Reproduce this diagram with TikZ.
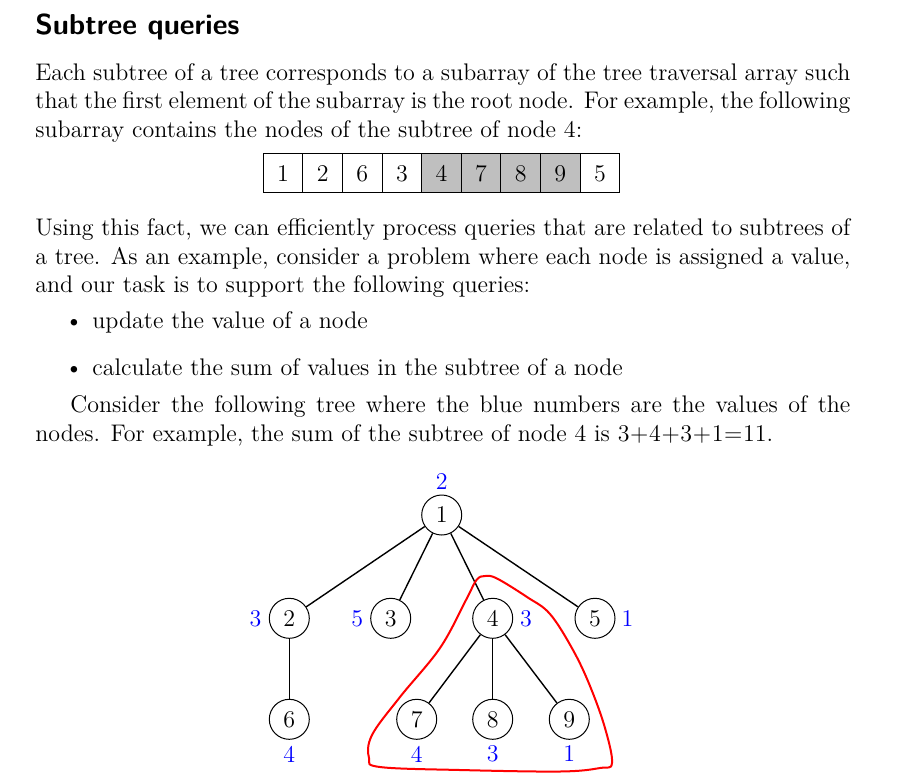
\documentclass[tikz,border=0pt,12pt]{standalone}
\begin{document}
\begin{tikzpicture}[x=0.5pt,y=-0.5pt,
  every node/.style={font=\fontsize{12}{14.5}\selectfont},
  txt/.style={anchor=base west,inner sep=0pt},
  cell/.style={draw,line width=0.5pt,minimum width=19.8pt,minimum height=19.4pt,inner sep=0pt},
  hl/.style={cell,fill=black!25},
  tn/.style={circle,draw,line width=0.5pt,minimum size=20pt,inner sep=0pt},
  val/.style={text=blue,inner sep=0pt},
  edge/.style={line width=0.7pt}]
\useasboundingbox (0,0) rectangle (911,783);
% title
\node[txt] (title) at (35,34) {\fontsize{14.4}{18}\selectfont\sffamily\bfseries Subtree queries};
% paragraph 1
\node[txt] (l1) at (35,80) {\hbox to 407.5pt{Each subtree of a tree corresponds to a subarray of the tree traversal array such}};
\node[txt] (l2) at (35,108.5) {\hbox to 407.5pt{that the first element of the subarray is the root node. For example, the following}};
\node[txt] (l3) at (35,137) {subarray contains the nodes of the subtree of node 4:};
% array
\node[cell] (a1) at (283.1,173.3) {1};
\node[cell] (a2) at (322.7,173.3) {2};
\node[cell] (a3) at (362.3,173.3) {6};
\node[cell] (a4) at (401.9,173.3) {3};
\node[hl]   (a5) at (441.5,173.3) {4};
\node[hl]   (a6) at (481.1,173.3) {7};
\node[hl]   (a7) at (520.7,173.3) {8};
\node[hl]   (a8) at (560.3,173.3) {9};
\node[cell] (a9) at (599.9,173.3) {5};
% paragraph 2
\node[txt] (l4) at (35,235) {\hbox to 407.5pt{Using this fact, we can efficiently process queries that are related to subtrees of}};
\node[txt] (l5) at (35,264) {\hbox to 407.5pt{a tree. As an example, consider a problem where each node is assigned a value,}};
\node[txt] (l6) at (35,292) {and our task is to support the following queries:};
% bullets
\node[anchor=base,inner sep=0pt] (b1) at (74,328.5) {\textbullet};
\node[txt] (t1) at (92,328.5) {update the value of a node};
\node[anchor=base,inner sep=0pt] (b2) at (74,375) {\textbullet};
\node[txt] (t2) at (92,375) {calculate the sum of values in the subtree of a node};
% paragraph 3
\node[txt] (l7) at (70,412) {\hbox to 390pt{Consider the following tree where the blue numbers are the values of the}};
\node[txt] (l8) at (35,441) {\medmuskip=0.5mu\thickmuskip=0.5mu nodes. For example, the sum of the subtree of node 4 is $3+4+3+1=11$.};
% tree
\node[tn] (n1) at (441.7,515) {1};
\node[tn] (n2) at (289.3,618.3) {2};
\node[tn] (n3) at (390.7,618.3) {3};
\node[tn] (n4) at (492.7,618.3) {4};
\node[tn] (n5) at (595,618.3) {5};
\node[tn] (n6) at (289.3,719.3) {6};
\node[tn] (n7) at (416.7,719.3) {7};
\node[tn] (n8) at (492.7,719.3) {8};
\node[tn] (n9) at (569.3,719.3) {9};
\draw[edge] (n1) -- (n2);
\draw[edge] (n1) -- (n3);
\draw[edge] (n1) -- (n4);
\draw[edge] (n1) -- (n5);
\draw[edge] (n2) -- (n6);
\draw[edge] (n4) -- (n7);
\draw[edge] (n4) -- (n8);
\draw[edge] (n4) -- (n9);
% values
\node[val] (v1) at (441.7,482) {2};
\node[val] (v2) at (255.5,618.3) {3};
\node[val] (v3) at (357.3,618.3) {5};
\node[val] (v4) at (526,618.3) {3};
\node[val] (v5) at (627.5,618.3) {1};
\node[val] (v6) at (289.3,754) {4};
\node[val] (v7) at (416.7,754) {4};
\node[val] (v8) at (492.7,754) {3};
\node[val] (v9) at (569.3,754) {1};
% red freehand outline
\draw[red,line width=1pt] plot[smooth cycle,tension=0.6] coordinates {
 (476.5,580) (485,576) (497,578.5) (527,597) (550,614) (573,650)
 (590,686) (605,728) (612,763) (600,768) (560,771.5) (460,770)
 (380,767) (369,758) (372,735) (400,697) (440,648) (466,600)};
\end{tikzpicture}
\end{document}
